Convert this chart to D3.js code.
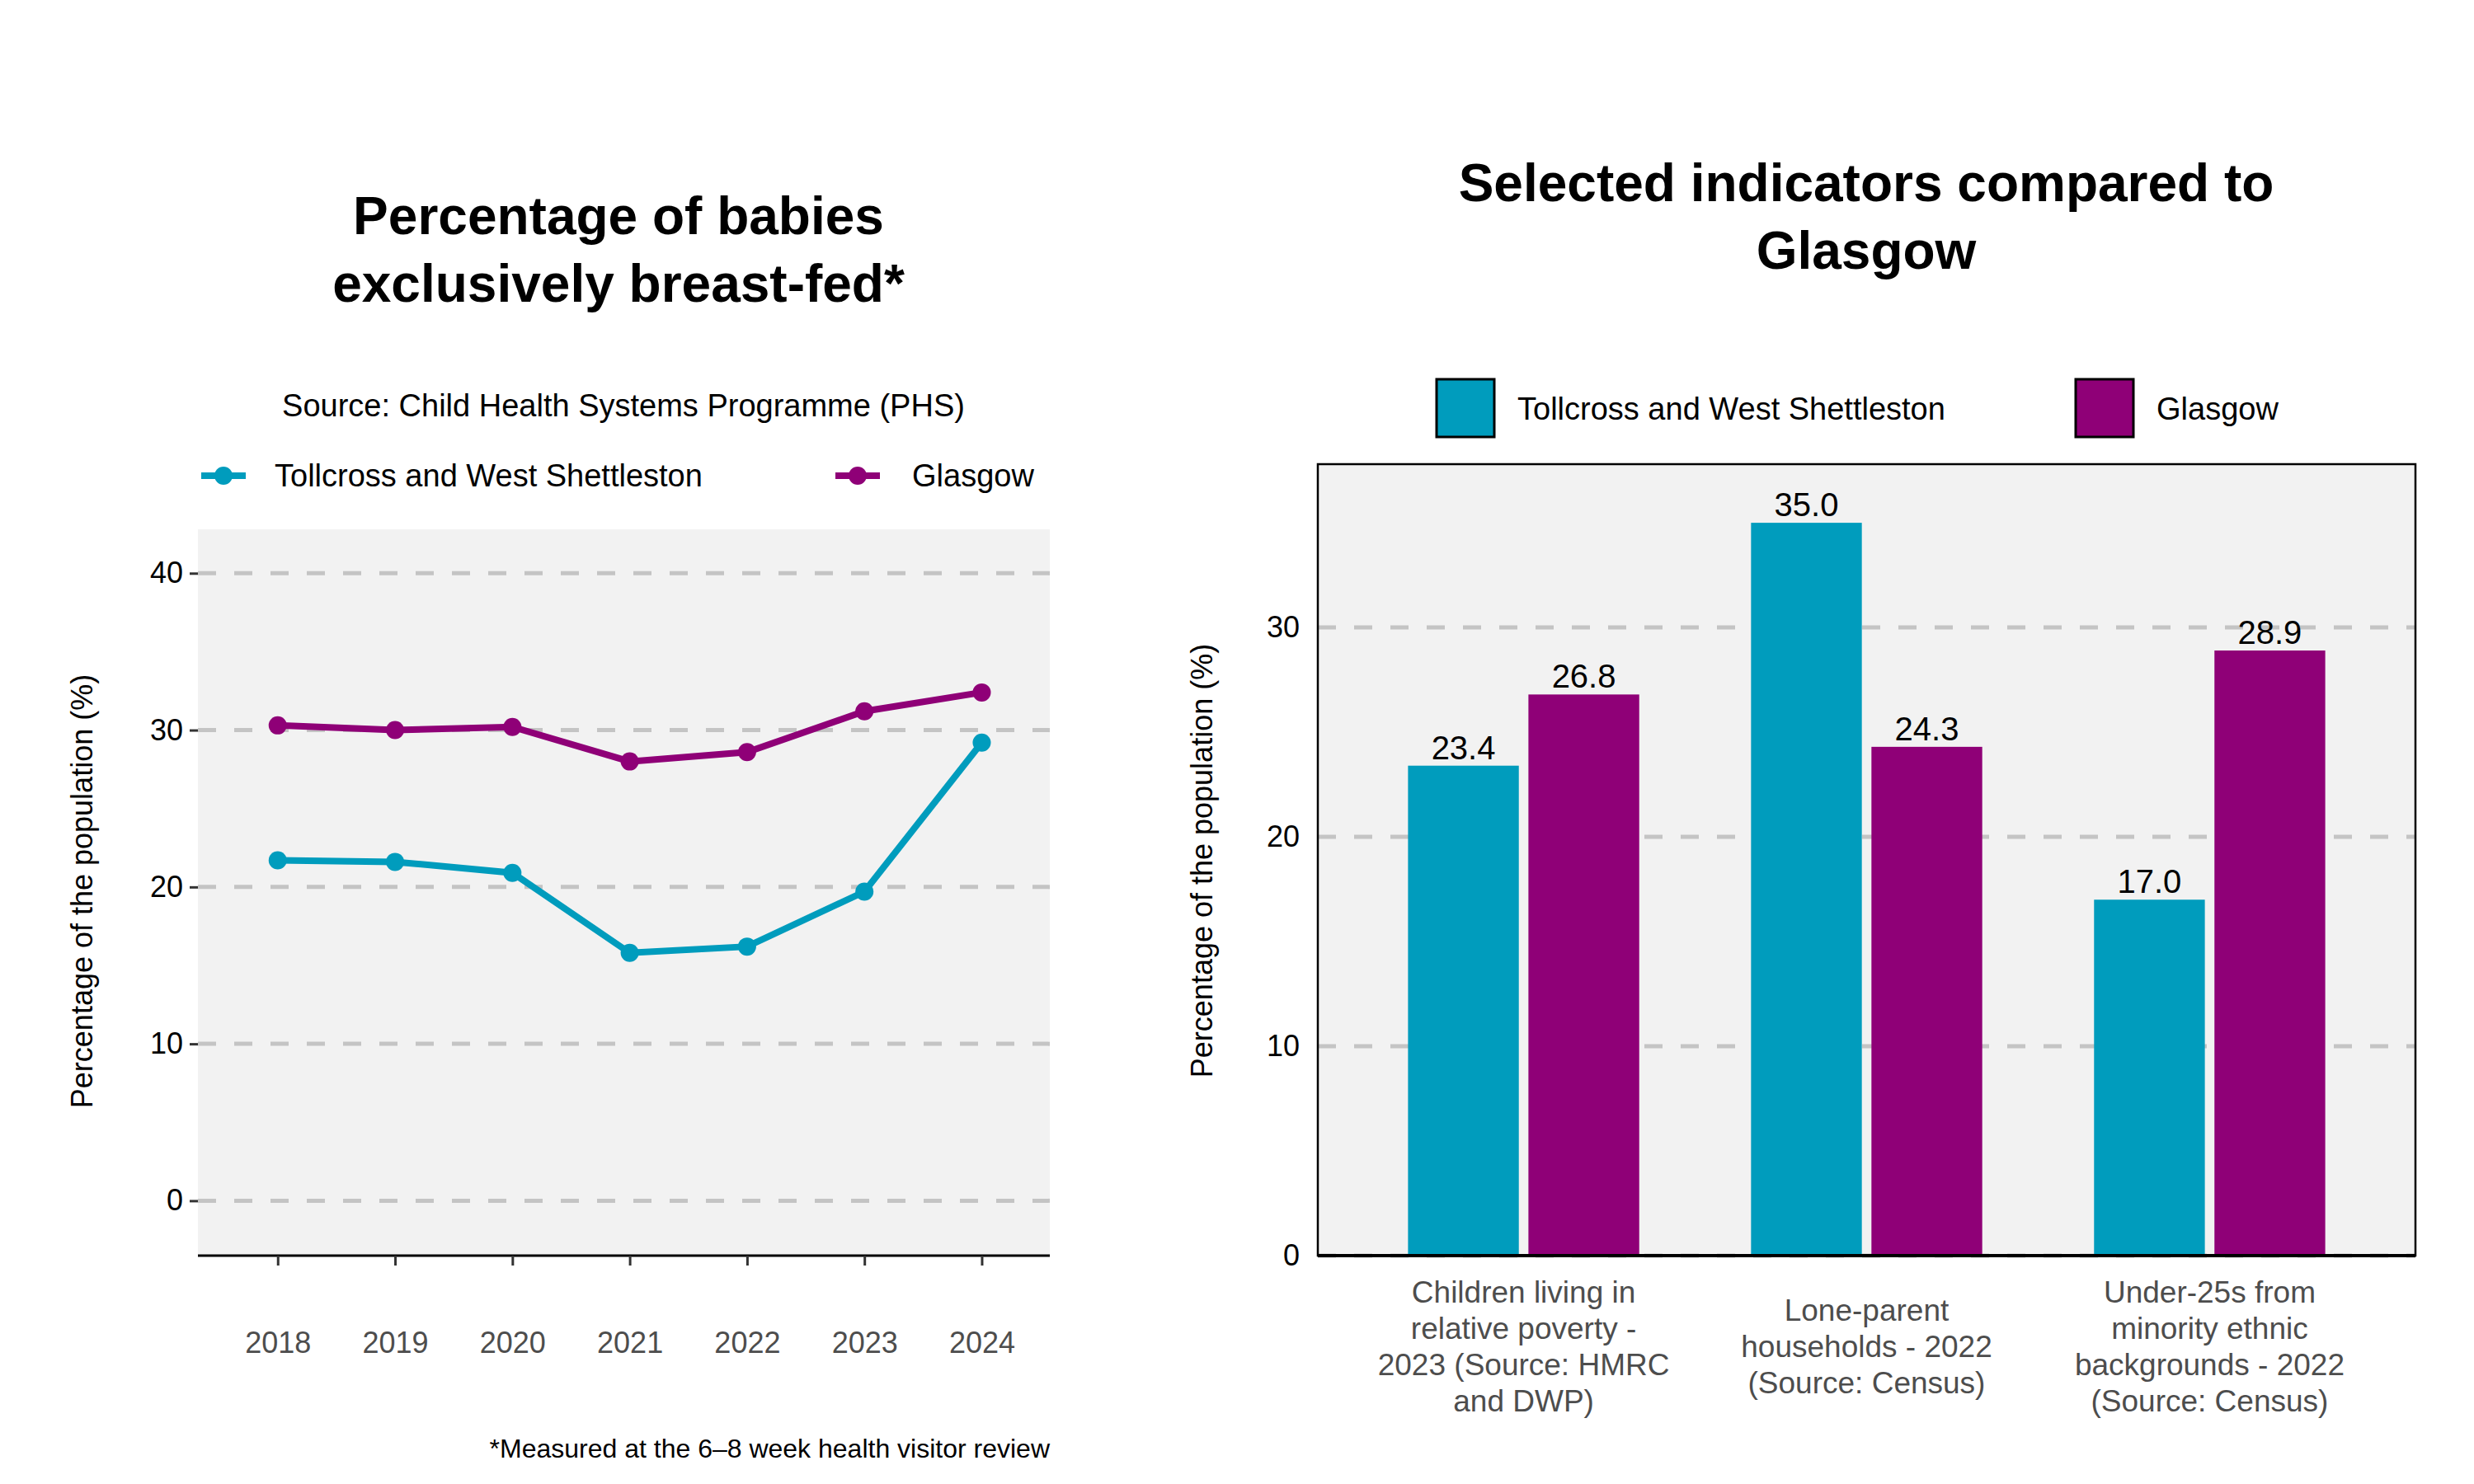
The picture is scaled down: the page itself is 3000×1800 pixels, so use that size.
<!DOCTYPE html>
<html><head><meta charset="utf-8">
<script src="https://cdn.jsdelivr.net/npm/d3@7"></script>
<style>body{margin:0;background:#fff}text{font-family:"Liberation Sans",Arial,sans-serif}</style>
</head><body><div id="chart"></div>
<script>
var years = [2018, 2019, 2020, 2021, 2022, 2023, 2024];
var tollcrossLine = [21.7, 21.6, 20.9, 15.8, 16.2, 19.7, 29.2];
var glasgowLine = [30.3, 30.0, 30.2, 28.0, 28.6, 31.2, 32.4];
var lineTicks = [0, 10, 20, 30, 40];

var categories = [
  ["Children living in", "relative poverty -", "2023 (Source: HMRC", "and DWP)"],
  ["Lone-parent", "households - 2022", "(Source: Census)"],
  ["Under-25s from", "minority ethnic", "backgrounds - 2022", "(Source: Census)"]
];
var tollcrossBars = [23.4, 35.0, 17.0];
var glasgowBars = [26.8, 24.3, 28.9];
var barTicks = [0, 10, 20, 30];

var teal = "#009cbd", purple = "#8f0077", grid = "#c4c4c4";

var svg = d3.select("#chart").append("svg").attr("width", 3000).attr("height", 1800);

// ---- left: line chart
var L = {left: 240, right: 1273, top: 642, bottom: 1523};
var x1 = d3.scaleLinear().domain([2017.32, 2024.58]).range([L.left, L.right]);
var y1 = d3.scaleLinear().domain([-3.5, 42.8]).range([L.bottom, L.top]);

svg.append("rect").attr("x", L.left).attr("y", L.top)
  .attr("width", L.right - L.left).attr("height", L.bottom - L.top).attr("fill", "#f2f2f2");

svg.append("g").selectAll("line").data(lineTicks).enter().append("line")
  .attr("x1", L.left).attr("x2", L.right)
  .attr("y1", d => y1(d)).attr("y2", d => y1(d))
  .attr("stroke", grid).attr("stroke-width", 5).attr("stroke-dasharray", "22,22");

var yAxis1 = svg.append("g").attr("transform", `translate(${L.left},0)`)
  .call(d3.axisLeft(y1).tickValues(lineTicks).tickSize(10).tickPadding(8));
yAxis1.select(".domain").remove();
yAxis1.selectAll("line").attr("stroke", "#333").attr("stroke-width", 3);
yAxis1.selectAll("text").attr("font-size", 36).attr("fill", "#000").attr("font-family", "Liberation Sans");

var xAxis1 = svg.append("g").attr("transform", `translate(0,${L.bottom})`)
  .call(d3.axisBottom(x1).tickValues(years).tickFormat(d3.format("d")).tickSize(12).tickPadding(80));
xAxis1.select(".domain").attr("d", `M${L.left},0H${L.right}`).attr("stroke", "#000").attr("stroke-width", 3);
xAxis1.selectAll("line").attr("stroke", "#333").attr("stroke-width", 3);
xAxis1.selectAll("text").attr("font-size", 36).attr("fill", "#4d4d4d").attr("font-family", "Liberation Sans");

var line = d3.line().x((d, i) => x1(years[i])).y(d => y1(d));
[[tollcrossLine, teal], [glasgowLine, purple]].forEach(function(s) {
  svg.append("path").datum(s[0]).attr("d", line).attr("fill", "none")
    .attr("stroke", s[1]).attr("stroke-width", 8);
  svg.append("g").selectAll("circle").data(s[0]).enter().append("circle")
    .attr("cx", (d, i) => x1(years[i])).attr("cy", d => y1(d)).attr("r", 11).attr("fill", s[1]);
});

svg.append("text").attr("x", 750).attr("y", 284).attr("text-anchor", "middle")
  .attr("font-size", 64).attr("font-weight", "bold").text("Percentage of babies");
svg.append("text").attr("x", 750).attr("y", 366).attr("text-anchor", "middle")
  .attr("font-size", 64).attr("font-weight", "bold").text("exclusively breast-fed*");
svg.append("text").attr("x", 756).attr("y", 505).attr("text-anchor", "middle")
  .attr("font-size", 38).text("Source: Child Health Systems Programme (PHS)");

[[244, 333, teal, "Tollcross and West Shettleston"], [1013, 1106, purple, "Glasgow"]].forEach(function(l) {
  svg.append("line").attr("x1", l[0]).attr("x2", l[0] + 54).attr("y1", 577).attr("y2", 577)
    .attr("stroke", l[2]).attr("stroke-width", 8);
  svg.append("circle").attr("cx", l[0] + 27).attr("cy", 577).attr("r", 11).attr("fill", l[2]);
  svg.append("text").attr("x", l[1]).attr("y", 590).attr("font-size", 38).text(l[3]);
});

svg.append("text").attr("transform", "translate(112,1081) rotate(-90)").attr("text-anchor", "middle")
  .attr("font-size", 36).text("Percentage of the population (%)");
svg.append("text").attr("x", 1273).attr("y", 1768).attr("text-anchor", "end")
  .attr("font-size", 32).text("*Measured at the 6\u20138 week health visitor review");

// ---- right: bar chart
var R = {left: 1598, right: 2929, top: 563, bottom: 1523};
var x2 = d3.scaleLinear().domain([0.4, 3.6]).range([R.left, R.right]);
var y2 = d3.scaleLinear().domain([0, 37.8]).range([R.bottom, R.top]);
var bw = 0.323, gap = 0.028;

svg.append("rect").attr("x", R.left).attr("y", R.top)
  .attr("width", R.right - R.left).attr("height", R.bottom - R.top).attr("fill", "#f2f2f2");
svg.append("g").selectAll("line").data(barTicks).enter().append("line")
  .attr("x1", R.left).attr("x2", R.right)
  .attr("y1", d => y2(d)).attr("y2", d => y2(d))
  .attr("stroke", grid).attr("stroke-width", 5).attr("stroke-dasharray", "22,22");

[[tollcrossBars, teal, -1], [glasgowBars, purple, 1]].forEach(function(s) {
  var off = d => s[2] < 0 ? -gap / 2 - bw : gap / 2;
  svg.append("g").selectAll("rect").data(s[0]).enter().append("rect")
    .attr("x", (d, i) => x2(i + 1 + off(d))).attr("width", x2(bw) - x2(0))
    .attr("y", d => y2(d)).attr("height", d => y2(0) - y2(d)).attr("fill", s[1]);
  svg.append("g").selectAll("text").data(s[0]).enter().append("text")
    .attr("x", (d, i) => x2(i + 1 + off(d) + bw / 2)).attr("y", d => y2(d) - 8)
    .attr("text-anchor", "middle").attr("font-size", 40).attr("font-family", "DejaVu Sans")
    .text(d => d.toFixed(1));
});

svg.append("rect").attr("x", R.left).attr("y", R.top)
  .attr("width", R.right - R.left).attr("height", R.bottom - R.top)
  .attr("fill", "none").attr("stroke", "#000").attr("stroke-width", 2.5);
svg.append("line").attr("x1", R.left).attr("x2", R.right).attr("y1", R.bottom).attr("y2", R.bottom)
  .attr("stroke", "#000").attr("stroke-width", 4);

var yAxis2 = svg.append("g").attr("transform", `translate(${R.left},0)`)
  .call(d3.axisLeft(y2).tickValues(barTicks).tickSize(0).tickPadding(22));
yAxis2.select(".domain").remove();
yAxis2.selectAll("text").attr("font-size", 36).attr("fill", "#000").attr("font-family", "Liberation Sans");

categories.forEach(function(c, i) {
  var t = svg.append("text").attr("text-anchor", "middle").attr("font-size", 37).attr("fill", "#4d4d4d");
  var y0 = 1580 + (4 - c.length) * 22;
  c.forEach(function(s, j) {
    t.append("tspan").attr("x", x2(i + 1)).attr("y", y0 + j * 44).text(s);
  });
});

svg.append("text").attr("transform", "translate(1470,1044) rotate(-90)").attr("text-anchor", "middle")
  .attr("font-size", 36).text("Percentage of the population (%)");
svg.append("text").attr("x", 2263).attr("y", 244).attr("text-anchor", "middle")
  .attr("font-size", 64).attr("font-weight", "bold").text("Selected indicators compared to");
svg.append("text").attr("x", 2263).attr("y", 326).attr("text-anchor", "middle")
  .attr("font-size", 64).attr("font-weight", "bold").text("Glasgow");

[[1742, 1840, teal, "Tollcross and West Shettleston"], [2517, 2615, purple, "Glasgow"]].forEach(function(l) {
  svg.append("rect").attr("x", l[0]).attr("y", 460).attr("width", 70).attr("height", 70)
    .attr("fill", l[2]).attr("stroke", "#000").attr("stroke-width", 3);
  svg.append("text").attr("x", l[1]).attr("y", 509).attr("font-size", 38).text(l[3]);
});
</script></body></html>
